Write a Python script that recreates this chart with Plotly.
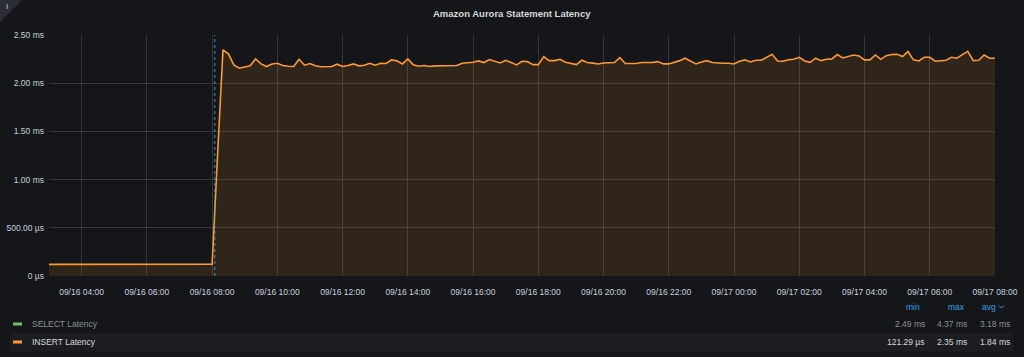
import pandas as pd
import plotly.graph_objects as go

# ---------------- data ----------------
series_start = "2019-09-16 03:00"
step_minutes = 10
insert_latency_ms = [
    # 03:00 .. 08:00 baseline
    0.121, 0.121, 0.122, 0.121, 0.122, 0.121, 0.121, 0.122, 0.123, 0.122, 0.121,
    0.122, 0.122, 0.123, 0.122, 0.122, 0.124, 0.123, 0.122, 0.123, 0.124, 0.123,
    0.122, 0.123, 0.125, 0.124, 0.123, 0.122, 0.122, 0.123, 0.122,
    # 08:10 ramp
    1.25,
    # 08:20 onward
    2.346, 2.304, 2.190, 2.156, 2.166, 2.180, 2.252, 2.200, 2.173, 2.200,
    2.207, 2.183, 2.176, 2.173, 2.249, 2.187, 2.204, 2.180, 2.170, 2.173,
    2.173, 2.197, 2.173, 2.183, 2.200, 2.180, 2.187, 2.207, 2.187, 2.207,
    2.204, 2.242, 2.232, 2.200, 2.252, 2.190, 2.176, 2.183, 2.173, 2.180,
    2.180, 2.183, 2.186, 2.183, 2.207, 2.210, 2.217, 2.231, 2.214, 2.245,
    2.224, 2.210, 2.238, 2.217, 2.190, 2.228, 2.224, 2.193, 2.193, 2.276,
    2.234, 2.234, 2.248, 2.217, 2.204, 2.193, 2.238, 2.214, 2.208, 2.200,
    2.210, 2.214, 2.214, 2.266, 2.204, 2.204, 2.204, 2.214, 2.214, 2.214,
    2.224, 2.200, 2.200, 2.214, 2.234, 2.259, 2.228, 2.200, 2.221, 2.234,
    2.214, 2.207, 2.207, 2.207, 2.200, 2.228, 2.242, 2.221, 2.238, 2.238,
    2.269, 2.300, 2.231, 2.228, 2.244, 2.248, 2.269, 2.231, 2.217, 2.259,
    2.234, 2.248, 2.252, 2.297, 2.262, 2.276, 2.293, 2.283, 2.242, 2.242,
    2.293, 2.248, 2.286, 2.297, 2.300, 2.276, 2.328, 2.242, 2.231, 2.269,
    2.269, 2.228, 2.234, 2.238, 2.269, 2.259, 2.297, 2.331, 2.234, 2.238,
    2.293, 2.259, 2.259,
]
annotation_time = "2019-09-16 08:05"
x_range = ["2019-09-16 03:00", "2019-09-17 08:00"]
x_tick0 = "2019-09-16 04:00"
y_tick_values = [0, 0.5, 1.0, 1.5, 2.0, 2.5]
y_tick_labels = ["0 µs", "500.00 µs", "1.00 ms", "1.50 ms", "2.00 ms", "2.50 ms"]

legend_names = ["SELECT Latency", "INSERT Latency"]
legend_colors = ["#73BF69", "#FF9830"]
stat_headers = ["min", "max", "avg"]
stat_values = [["2.49 ms", "4.37 ms", "3.18 ms"],
               ["121.29 µs", "2.35 ms", "1.84 ms"]]
title_text = "Amazon Aurora Statement Latency"

# ---------------- layout helpers ----------------
W, H = 1024, 357
PL, PR, PT, PB = 49, 995, 35, 276
def xp(px): return (px - PL) / (PR - PL)
def yp(py): return (PB - py) / (PB - PT)

FONT = "Liberation Sans, Helvetica, Arial, sans-serif"
BG = "#141619"

times = pd.date_range(series_start, periods=len(insert_latency_ms), freq=f"{step_minutes}min")

fig = go.Figure()
fig.add_trace(go.Scatter(
    x=times, y=insert_latency_ms, mode="lines", name=legend_names[1],
    line=dict(color=legend_colors[1], width=1.6),
    fill="tozeroy", fillcolor="rgba(255,152,48,0.12)",
    hoverinfo="skip", showlegend=False,
))

shapes = []
annotations = []

def label(text, px, py, size=8.5, color="#c7d0d9", xanchor="center"):
    annotations.append(dict(text=text, x=xp(px), y=yp(py), xref="paper", yref="paper",
                            xanchor=xanchor, yanchor="middle", showarrow=False,
                            font=dict(family=FONT, size=size, color=color)))

# annotation marker (dashed vertical line + triangle)
shapes.append(dict(type="line", xref="x", yref="paper", x0=annotation_time, x1=annotation_time,
                   y0=0, y1=1, line=dict(color="rgba(40,180,225,0.85)", width=1, dash="dot")))
fig.add_trace(go.Scatter(
    x=[annotation_time], y=[yp(280)], yaxis="y2", mode="markers",
    marker=dict(symbol="triangle-up", size=7, color="rgba(40,180,225,0.9)"),
    hoverinfo="skip", showlegend=False, cliponaxis=False,
))

# info corner
shapes.append(dict(type="path", xref="paper", yref="paper",
                   path=f"M {xp(0)},{yp(0)} L {xp(22)},{yp(0)} L {xp(0)},{yp(22)} Z",
                   fillcolor="#2c2e33", line=dict(width=0)))
label("<b>i</b>", 7, 7, size=8, color="#9fa7b3")

# title
label(f"<b>{title_text}</b>", 512, 13, size=9.5, color="#d8d9da")

# legend table
row_y = [324, 342]
shapes.append(dict(type="rect", xref="paper", yref="paper", x0=xp(10), x1=xp(1013),
                   y0=yp(333), y1=yp(351.5), fillcolor="#1c1d21", line=dict(width=0), layer="below"))
name_colors = ["#8e9196", "#d8d9da"]
val_colors = ["#8e9196", "#d8d9da"]
for i, name in enumerate(legend_names):
    shapes.append(dict(type="line", xref="paper", yref="paper", x0=xp(13), x1=xp(22),
                       y0=yp(row_y[i]), y1=yp(row_y[i]), line=dict(color=legend_colors[i], width=3)))
    label(name, 30, row_y[i], color=name_colors[i], xanchor="left")
    for j, v in enumerate(stat_values[i]):
        label(v, [926.5, 969, 1012][j], row_y[i], color=val_colors[i], xanchor="right")
for j, h in enumerate(stat_headers):
    label(h, [913, 956, 989][j], 307, color="#33a2e5")
# chevron after "avg"
shapes.append(dict(type="path", xref="paper", yref="paper",
                   path=f"M {xp(999)},{yp(305.5)} L {xp(1001.5)},{yp(308)} L {xp(1004)},{yp(305.5)}",
                   line=dict(color="#33a2e5", width=1)))

grid = "rgba(255,255,255,0.14)"
fig.update_layout(
    width=W, height=H, autosize=False,
    margin=dict(l=PL, r=W - PR, t=PT, b=H - PB, pad=0, autoexpand=False),
    paper_bgcolor=BG, plot_bgcolor=BG,
    font=dict(family=FONT, size=8.5, color="#c7d0d9"),
    xaxis=dict(type="date", range=x_range, tick0=x_tick0, dtick=2 * 3600 * 1000,
               tickformat="%m/%d %H:%M", showgrid=True, gridcolor=grid, gridwidth=1,
               zeroline=False, showline=False, ticks="", ticklabelstandoff=9, automargin=False,
               tickfont=dict(family=FONT, size=8.5, color="#c7d0d9")),
    yaxis=dict(range=[0, 2.5], tickvals=y_tick_values, ticktext=y_tick_labels,
               showgrid=True, gridcolor=grid, gridwidth=1, zeroline=False, showline=False,
               ticks="", ticklabelstandoff=4, automargin=False,
               tickfont=dict(family=FONT, size=8.5, color="#c7d0d9")),
    yaxis2=dict(overlaying="y", range=[0, 1], visible=False, fixedrange=True),
    shapes=shapes, annotations=annotations, showlegend=False,
)

fig.write_html("out.html", config={"displayModeBar": False},
               post_script="document.body.style.margin='0';document.body.style.background='#141619';")
